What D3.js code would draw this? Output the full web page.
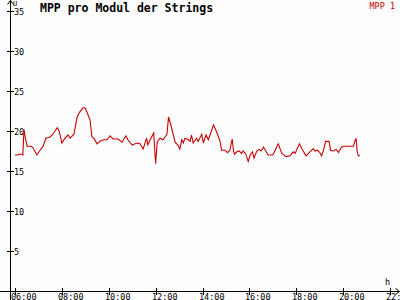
<!DOCTYPE html>
<html><head><meta charset="utf-8">
<script src="https://cdn.jsdelivr.net/npm/d3@7/dist/d3.min.js"></script>
<style>
html,body{margin:0;padding:0;background:#fdfdfd;overflow:hidden}
svg{display:block}
text{font-family:"DejaVu Sans Mono",monospace}
</style></head><body>
<svg id="c" width="400" height="300"></svg>
<script>
const title = "MPP pro Modul der Strings";
const seriesName = "MPP 1";
const yTicks = [5,10,15,20,25,30,35];
const xTickLabels = ["06:00","08:00","10:00","12:00","14:00","16:00","18:00","20:00","22:00"];
const times = ["06:00","06:08","06:10","06:18","06:20","06:23","06:26","06:31","06:41","06:46","06:56",
"07:04","07:12","07:19","07:30","07:37","07:48","07:53","08:00","08:08","08:16","08:21","08:31","08:39",
"08:46","08:54","08:59","09:04","09:12","09:17","09:22","09:30","09:38","09:48","09:56","10:03","10:11",
"10:24","10:34","10:44","10:49","11:00","11:12","11:20","11:28","11:37","11:40","11:46","11:55","12:00",
"12:04","12:11","12:19","12:24","12:29","12:33","12:39","12:44","12:50","12:57","13:02","13:07","13:11",
"13:15","13:24","13:28","13:32","13:36","13:45","13:49","13:58","14:02","14:09","14:15","14:28","14:36",
"14:45","14:49","14:58","15:04","15:10","15:16","15:19","15:22","15:28","15:34","15:40","15:44","15:51",
"15:57","16:02","16:08","16:12","16:19","16:25","16:30","16:36","16:43","16:48","17:00","17:06","17:14",
"17:23","17:34","17:44","17:52","17:57","18:08","18:14","18:25","18:35","18:44","18:48","18:54","18:59",
"19:05","19:11","19:15","19:24","19:28","19:35","19:42","19:48","19:56","20:05","20:26","20:30","20:33",
"20:36","20:39","20:43"];
const values = [17.0,17.0,17.1,17.1,17.0,20.2,19.25,18.1,18.1,17.9,17.0,
17.6,18.1,19.1,19.25,19.6,20.4,20.0,18.5,19.1,19.5,19.1,19.6,21.75,
22.4,22.9,22.9,22.4,21.4,19.25,19.1,18.4,18.75,18.9,18.9,19.4,19.0,
19.0,18.6,19.4,18.9,18.25,18.5,18.4,17.75,19.1,18.25,18.9,19.75,15.9,
18.6,19.1,18.9,19.25,19.6,21.75,20.75,19.75,18.6,18.25,17.75,18.9,18.5,
19.1,18.9,18.7,19.5,18.5,19.1,18.7,19.6,18.5,19.5,18.9,20.75,19.9,
18.7,17.6,17.6,17.3,17.6,19.0,17.6,17.1,17.4,17.5,17.2,17.5,17.1,
16.2,17.0,17.4,16.6,17.5,17.7,17.5,18.0,17.4,17.0,17.0,17.6,18.4,
17.2,16.8,16.9,17.4,17.2,18.4,17.8,16.9,17.4,17.8,17.5,17.6,17.4,
16.9,17.8,18.7,18.7,17.6,17.5,17.7,17.3,18.0,18.1,18.1,18.7,19.1,
17.4,16.9,16.9];

const toH = s => { const [h,m] = s.split(":").map(Number); return h + m/60; };
const data = times.map((t,i)=>({h:toH(t), v:values[i]}));

const svg = d3.select("#c");
const x = d3.scaleLinear().domain([6,22]).range([15,390]);
const y = d3.scaleLinear().domain([0,35]).range([291,11]);
const red = "#c80000";

// axes lines
const ax = svg.append("g").attr("shape-rendering","crispEdges").attr("stroke","#000").attr("fill","none");
ax.append("line").attr("x1",10.5).attr("x2",10.5).attr("y1",0).attr("y2",300);
ax.append("line").attr("x1",0).attr("x2",399).attr("y1",291.5).attr("y2",291.5);
// arrows
svg.append("path").attr("d","M7.5,4.5 L10.5,0.5 L13.5,4.5").attr("stroke","#000").attr("fill","none");
svg.append("path").attr("d","M395.5,288.5 L399.5,291.5 L395.5,294.5").attr("stroke","#000").attr("fill","none");

// y ticks
const yg = svg.append("g");
yTicks.forEach(v=>{
  const yy = Math.round(y(v))+0.5;
  yg.append("line").attr("x1",7).attr("x2",14).attr("y1",yy).attr("y2",yy).attr("stroke","#000").attr("shape-rendering","crispEdges");
  yg.append("text").attr("x",14).attr("y",yy+3.5).attr("font-size","8.5px").attr("fill","#000").text(v);
});
// x ticks
const xg = svg.append("g");
xTickLabels.forEach(l=>{
  const xx = Math.round(x(toH(l)))+0.5;
  xg.append("line").attr("x1",xx).attr("x2",xx).attr("y1",288).attr("y2",295).attr("stroke","#000").attr("shape-rendering","crispEdges");
  xg.append("text").attr("x",xx-4.5).attr("y",299.5).attr("font-size","8.5px").attr("fill","#000").text(l);
});

// axis names
svg.append("text").attr("x",13).attr("y",6).attr("font-size","7px").text("U");
svg.append("text").attr("x",385).attr("y",285).attr("font-size","8.5px").text("h");

// title + legend
svg.append("text").attr("x",40).attr("y",12).attr("font-size","11.5px").attr("font-weight","bold").text(title);
svg.append("text").attr("x",395).attr("y",9).attr("text-anchor","end").attr("font-size","8.5px").attr("fill",red).text(seriesName);

// line
const line = d3.line().x(d=>x(d.h)).y(d=>y(d.v));
svg.append("path").datum(data).attr("d",line).attr("fill","none").attr("stroke",red).attr("stroke-width",1.1);
</script>
</body></html>
